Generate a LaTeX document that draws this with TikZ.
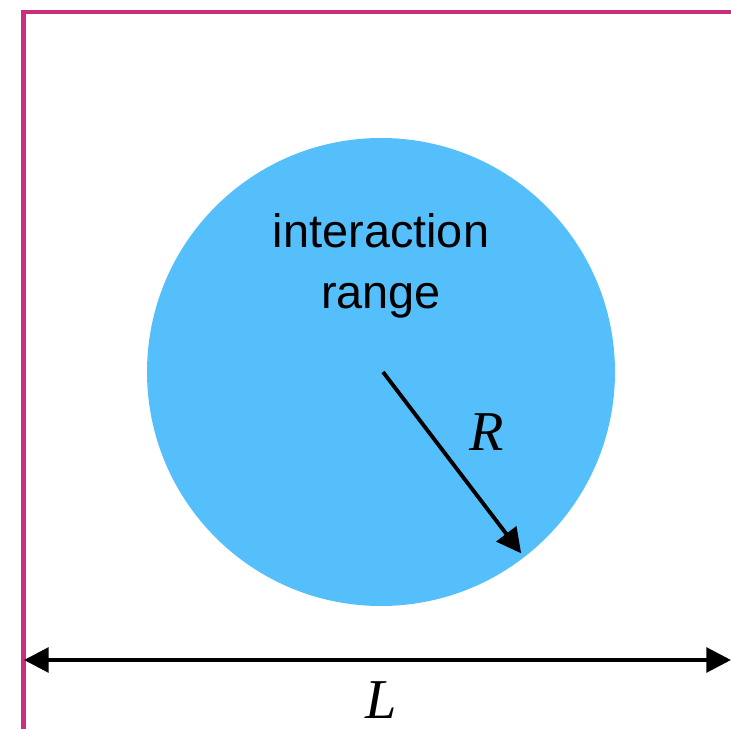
\documentclass[tikz,border=0pt]{standalone}
\usepackage{fontspec}
\usetikzlibrary{arrows.meta,calc}
\newfontfamily\labelfont{Liberation Sans}
\newfontfamily\symbfont{Liberation Serif}
\definecolor{frame}{HTML}{CC2E7E}
\definecolor{range}{HTML}{55BFFC}

\begin{document}
\begin{tikzpicture}[
    x=0.03cm,y=0.03cm,
    arr/.style={-{Triangle[length=21pt,width=21pt]},line width=3.3pt,black},
    darr/.style={{Triangle[length=21pt,width=21pt]}-{Triangle[length=21pt,width=21pt]},line width=3.3pt,black},
    lbl/.style={font=\labelfont\fontsize{40}{52}\selectfont,align=center},
    sym/.style={font=\symbfont\itshape\fontsize{48}{48}\selectfont},
]
\useasboundingbox (0,0) rectangle (731,729);
% Box border (left and top)
\coordinate (bl) at (23.5,0);
\coordinate (tl) at (23.5,717);
\coordinate (tr) at (731,717);
\draw[frame,line width=3.8pt] (bl) -- (tl) -- (tr);

% Interaction range
\node[circle,fill=range,minimum size=468*0.03cm,inner sep=0pt] (circ) at (381,357) {};
\node[lbl] (txt) at (381,463) {interaction\\range};

% Radius
\coordinate (ctr) at (383,357);
\coordinate (rend) at ($(ctr)+(-52.7:228)$);
\draw[arr] (ctr) -- (rend);
\node[sym] (rlab) at (487,297) {R};

% System size
\coordinate (lleft) at (24,69);
\coordinate (lright) at (731,69);
\draw[darr] (lleft) -- (lright);
\node[sym] (llab) at (381,29) {L};
\end{tikzpicture}
\end{document}
